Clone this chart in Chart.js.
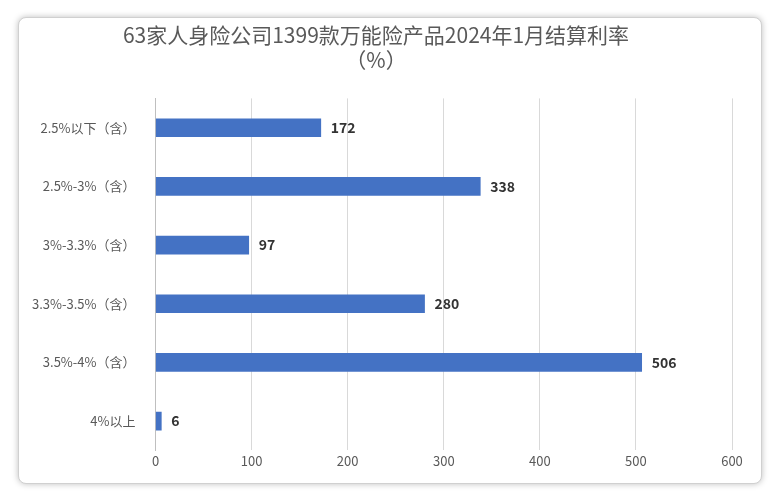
<!DOCTYPE html>
<html><head><meta charset="utf-8">
<script src="https://cdn.jsdelivr.net/npm/chart.js@4"></script>
<style>
body{margin:0;background:#fff;}
#card{position:absolute;left:18px;top:17px;width:742px;height:465px;border:1px solid #d0d0d0;border-radius:8px;box-shadow:0 0 6px rgba(0,0,0,0.25);background:#fff;}
#wrap{position:absolute;left:0;top:0;width:778px;height:500px;}
</style></head><body>
<div id="card"></div>
<div id="wrap"><canvas id="c" width="778" height="500"></canvas></div>
<script>
const categories=["2.5%以下（含）","2.5%-3%（含）","3%-3.3%（含）","3.3%-3.5%（含）","3.5%-4%（含）","4%以上"];
const values=[172,338,97,280,506,6];
const titleLines=["63家人身险公司1399款万能险产品2024年1月结算利率","（%）"];
const font="'Noto Sans CJK SC','Noto Sans',sans-serif";
const labelPlugin={id:'lbl',afterDatasetsDraw(ch){const ctx=ch.ctx;const m=ch.getDatasetMeta(0);ctx.save();ctx.font="bold 14px "+font;ctx.fillStyle="#333";ctx.textBaseline="middle";m.data.forEach((b,i)=>{ctx.fillText(values[i],b.x+10,b.y);});ctx.restore();}};
new Chart(document.getElementById('c'),{type:'bar',data:{labels:categories,datasets:[{data:values,backgroundColor:'#4472C4',barThickness:18}]},
options:{indexAxis:'y',responsive:false,animation:false,
layout:{padding:{left:20,right:46,top:22,bottom:28}},
plugins:{legend:{display:false},tooltip:{enabled:false},title:{display:true,text:titleLines,color:'#595959',font:{family:font,size:21,weight:'normal'},padding:{top:0,bottom:26},lineHeight:1.3}},
scales:{x:{min:0,max:600,ticks:{stepSize:100,color:'#595959',font:{family:font,size:13}},grid:{color:'#d9d9d9',drawTicks:false},border:{display:false}},
y:{ticks:{color:'#595959',font:{family:font,size:13},padding:12},grid:{display:false},border:{color:'#bfbfbf'}}}},
plugins:[labelPlugin]});
</script></body></html>
